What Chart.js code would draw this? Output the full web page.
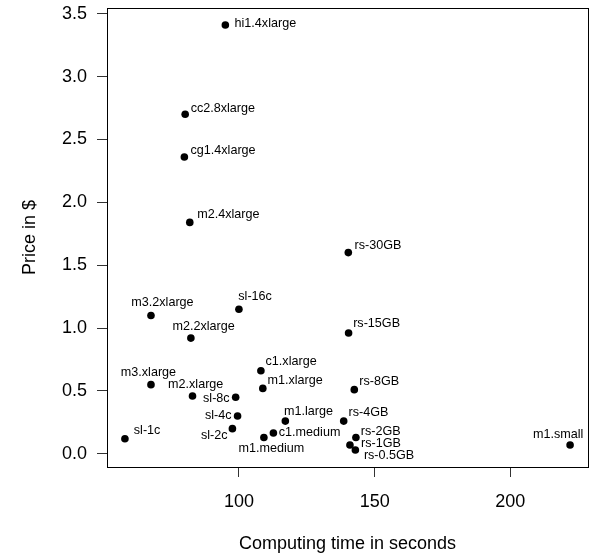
<!DOCTYPE html>
<html>
<head>
<meta charset="utf-8">
<script src="https://cdn.jsdelivr.net/npm/chart.js@4/dist/chart.umd.min.js"></script>
<style>
  html, body { margin: 0; padding: 0; background: #fff; }
  canvas { display: block; }
</style>
</head>
<body>
<canvas id="priceChart" width="592" height="554"></canvas>
<script>
// Instancias y sus valores
const instanceNames = ['hi1.4xlarge', 'cc2.8xlarge', 'cg1.4xlarge', 'm2.4xlarge', 'rs-30GB',
    'm3.2xlarge', 'sl-16c', 'rs-15GB', 'm2.2xlarge', 'c1.xlarge', 'm3.xlarge', 'm1.xlarge',
    'rs-8GB', 'm2.xlarge', 'sl-8c', 'sl-4c', 'm1.large', 'rs-4GB', 'sl-2c', 'c1.medium',
    'm1.medium', 'rs-2GB', 'sl-1c', 'rs-1GB', 'm1.small', 'rs-0.5GB'];
const computeSeconds = [95.0, 80.2, 79.9, 81.9, 140.3,
    67.6, 100.0, 140.4, 82.3, 108.1, 67.6, 108.8,
    142.5, 82.9, 98.8, 99.5, 117.1, 138.6, 97.6, 112.7,
    109.2, 143.1, 58.0, 140.9, 222.0, 142.9];
const prices = [3.41, 2.70, 2.36, 1.84, 1.60,
    1.10, 1.15, 0.96, 0.92, 0.66, 0.55, 0.52,
    0.51, 0.46, 0.45, 0.30, 0.26, 0.26, 0.20, 0.165,
    0.13, 0.13, 0.12, 0.07, 0.07, 0.03];
const xTickValues = [100, 150, 200];
const yTickValues = [0, 0.5, 1.0, 1.5, 2.0, 2.5, 3.0, 3.5];

// desplazamiento de cada etiqueta respecto a su punto (centro del texto, línea base), en px
const labelOffsets = [[40, 2.5], [37.7, -2.3], [38.7, -2.7], [38.5, -4.7], [29.7, -3.3],
    [11.5, -9.3], [16.2, -9.3], [28, -6], [12.7, -8], [30.2, -5.3], [-2.5, -9], [32.3, -4.7],
    [25, -4.7], [3.2, -7.7], [-19.3, 4.7], [-19.3, 3.3], [23.2, -6], [24.7, -4.7], [-18.2, 10.7], [36.2, 3],
    [7.4, 15], [24.8, -2.3], [22.2, -5], [31, 1.7], [-12, -6.7], [33.7, 9.3]];

const FONT = "'Liberation Sans', Arial, Helvetica, sans-serif";

const points = computeSeconds.map((x, i) => ({ x: x, y: prices[i] }));

const boxAndLabels = {
    id: 'boxAndLabels',
    afterDatasetsDraw(chart) {
        const ctx = chart.ctx;
        const area = chart.chartArea;
        ctx.save();
        ctx.strokeStyle = '#000';
        ctx.lineWidth = 1;
        ctx.strokeRect(Math.round(area.left) + 0.5, Math.round(area.top) + 0.5,
            Math.round(area.right - area.left), Math.round(area.bottom - area.top));

        ctx.fillStyle = '#000';
        ctx.font = '12.6px ' + FONT;
        ctx.textAlign = 'center';
        ctx.textBaseline = 'alphabetic';
        const meta = chart.getDatasetMeta(0);
        meta.data.forEach((pt, i) => {
            const off = labelOffsets[i];
            ctx.fillText(instanceNames[i], pt.x + off[0], pt.y + off[1]);
        });
        ctx.restore();
    }
};

new Chart(document.getElementById('priceChart').getContext('2d'), {
    type: 'scatter',
    data: {
        datasets: [{
            data: points,
            backgroundColor: '#000',
            borderWidth: 0,
            pointRadius: 3.8,
            pointHoverRadius: 3.8
        }]
    },
    options: {
        responsive: false,
        animation: false,
        events: [],
        layout: { padding: { top: 8, right: 4, left: 0, bottom: 0 } },
        plugins: {
            legend: { display: false },
            tooltip: { enabled: false }
        },
        scales: {
            x: {
                type: 'linear',
                min: 51.4,
                max: 228.6,
                afterFit: (scale) => {
                    scale.height = 87;
                    scale.paddingLeft = 0;
                    scale.paddingRight = 0;
                },
                afterBuildTicks: (scale) => { scale.ticks = xTickValues.map(v => ({ value: v })); },
                border: { display: false },
                grid: { drawOnChartArea: false, drawTicks: true, tickLength: 10, tickColor: '#333', color: '#333' },
                ticks: {
                    color: '#000',
                    padding: 14,
                    maxRotation: 0,
                    font: { family: FONT, size: 18 },
                    callback: (v) => String(v)
                },
                title: {
                    display: true,
                    text: 'Computing time in seconds',
                    color: '#000',
                    font: { family: FONT, size: 18, lineHeight: 1.1 },
                    padding: { top: 0, bottom: 0 }
                }
            },
            y: {
                type: 'linear',
                min: -0.105,
                max: 3.545,
                afterFit: (scale) => {
                    scale.width = 107;
                    scale.paddingTop = 0;
                    scale.paddingBottom = 0;
                },
                afterBuildTicks: (scale) => { scale.ticks = yTickValues.map(v => ({ value: v })); },
                border: { display: false },
                grid: { drawOnChartArea: false, drawTicks: true, tickLength: 10, tickColor: '#333', color: '#333' },
                ticks: {
                    color: '#000',
                    padding: 10,
                    font: { family: FONT, size: 18 },
                    callback: (v) => v.toFixed(1)
                },
                title: {
                    display: true,
                    text: 'Price in $',
                    color: '#000',
                    font: { family: FONT, size: 18 },
                    padding: { top: 19, bottom: 0 }
                }
            }
        }
    },
    plugins: [boxAndLabels]
});
</script>
</body>
</html>
